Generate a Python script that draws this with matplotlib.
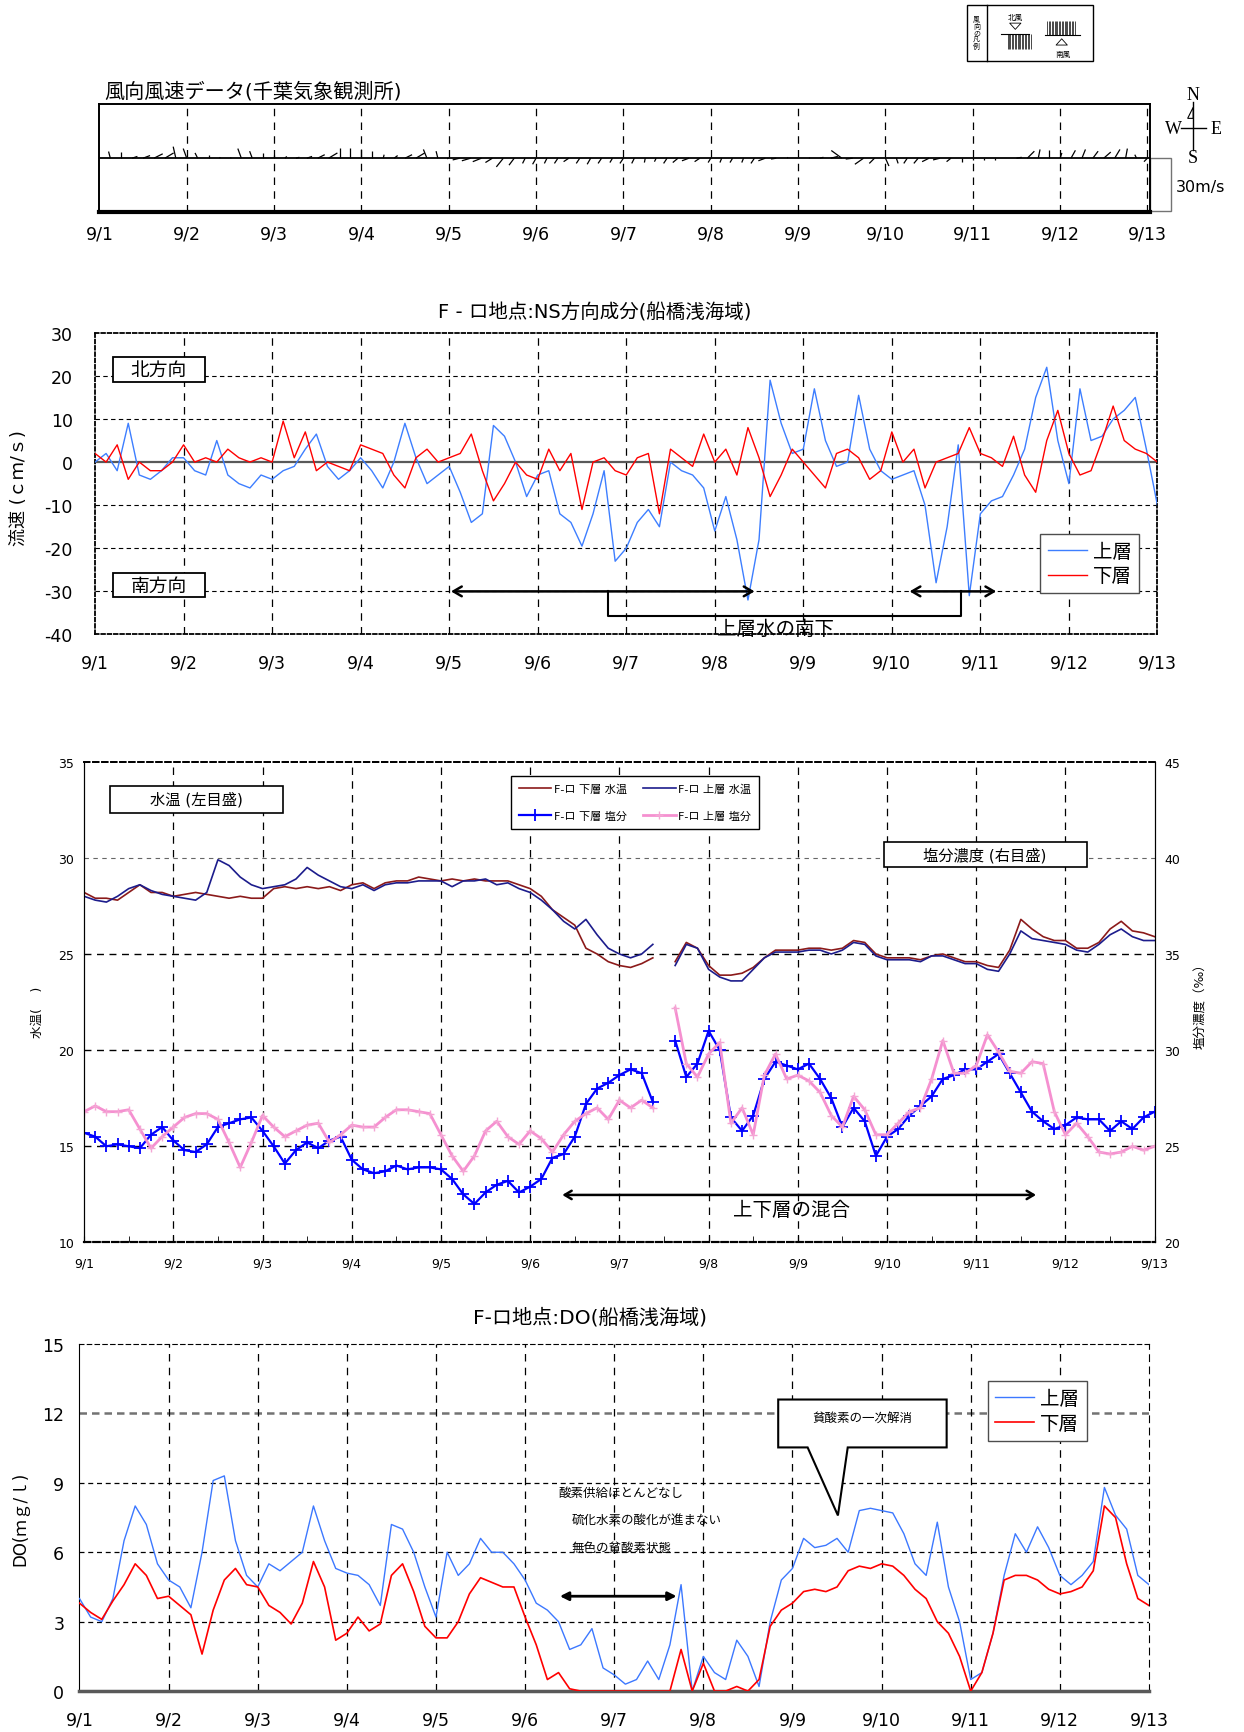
import numpy as np
import matplotlib.pyplot as plt
from matplotlib.patches import Rectangle, Polygon, FancyArrowPatch
from matplotlib.collections import LineCollection

plt.rcParams['font.family'] = ['DejaVu Sans', 'Noto Sans CJK JP']
plt.rcParams['axes.unicode_minus'] = False

days = ['9/1', '9/2', '9/3', '9/4', '9/5', '9/6', '9/7',
        '9/8', '9/9', '9/10', '9/11', '9/12', '9/13']
hours = np.arange(0, 289, 3)          # 3-hourly, 9/1 00:00 .. 9/13 00:00
t = hours / 24.0
nan = np.nan

# wind (m/s): east / north components
wind_u = [-1.5, -1, 0, 3, 4, 5, 5, -1.5,
          -2, -1.5, 0, 0.5, 0.5, -2, -1.5, 0,
          0, 1, 2, 3, 4, 5, 0, 0,
          0, 0, 0.5, 2, 4, 5, -2, -1,
          -1, -4, -5, -5, -4, -4, -3, -1.5,
          -2, -1.5, -2, -3, -2, -2, -2, -1.5,
          -2, -1.5, -0.5, -1, -2, -3, -4, -3,
          -1.5, -1, -1.5, -1, -2, -4, -3, 0.5,
          0, 0, 2, 4, -6, -4, -5, -3,
          2, 1, -2, -2.5, -4, -4, -2.5, 0,
          0, 0, 0, 0, 3, 4, 1, 0,
          1, 2.5, 2, 3, 4, 3, 1, -1,
          -2]
wind_v = [3.8, 3.8, 3.8, 1, 1.5, 2.5, 3, 6.6,
          5.5, 3, 2, 0.5, 0.3, 5.5, 4, 3,
          2, 1, 0.5, 1, 2, 3, 6, 6,
          5, 4, 2, 1.5, 2, 3, 5, 4,
          -0.3, -1, -1.5, -2, -2.5, -5, -4, -3,
          -3.5, -3, -3, -2, -3, -3.5, -3, -2.5,
          -3, -3, -2.5, -2, -3, -2.5, -1.5, -2,
          -2.5, -2.5, -2.5, -2.5, -3, -1.5, -0.5, 0.5,
          0.3, 0.8, 0.5, 1, 4.4, -0.5, -3.5, -3,
          -4.5, -3, -3, -3, -2, -1, -2, -2,
          -1.2, -1, -0.8, 0.3, 0.5, 4, 5, 4.5,
          3, 4.5, 5, 4, 3.5, 5, 5.5, 2,
          -2]

# NS current (cm/s)
ns_upper = [0, 2, -2, 9, -3, -4, -2, 1,
            1, -2, -3, 5, -3, -5, -6, -3,
            -4, -2, -1, 3, 6.5, -1, -4, -2,
            1, -2, -6, 0, 9, 1, -5, -3,
            -1, -7, -14, -12, 8.5, 6, 0, -8,
            -3, -2, -12, -14, -19.5, -12, -2, -23,
            -20, -14, -11, -15, 0, -2, -3, -6,
            -16, -8, -18, -32, -18, 19, 9, 2,
            3, 17, 5, -1, 0, 15.5, 3, -2,
            -4, -3, -2, -10, -28, -15, 4, -31,
            -12, -9, -8, -3, 3, 15, 22, 5,
            -5, 17, 5, 6, 10, 12, 15, 3,
            -10]
ns_lower = [2, 0, 4, -4, 0, -2, -2, 0,
            4, 0, 1, 0, 3, 1, 0, 1,
            0, 9.5, 1, 7, -2, 0, -1, -2,
            4, 3, 2, -3, -6, 1, 3, 0,
            1, 2, 6.5, -2, -9, -5, 0, -3,
            -4, 3, -2, 2, -11, 0, 1, -2,
            -3, 1, 2, -12, 3, 1, -1, 6.5,
            0, 3, -3, 8, 1, -8, -3, 3,
            0, -3, -6, 2, 3, 1, -4, -2,
            7, 0, 3, -6, 0, 1, 2, 8,
            2, 1, -1, 6, -3, -7, 5, 12,
            2, -3, -2, 5, 13, 5, 3, 2,
            0]

# water temperature (deg C)
temp_lower = [28.2, 27.9, 27.9, 27.8, 28.2, 28.6, 28.2, 28.2,
              28.0, 28.1, 28.2, 28.1, 28.0, 27.9, 28.0, 27.9,
              27.9, 28.4, 28.5, 28.4, 28.5, 28.4, 28.5, 28.3,
              28.6, 28.7, 28.4, 28.7, 28.8, 28.8, 29.0, 28.9,
              28.8, 28.9, 28.8, 28.9, 28.8, 28.8, 28.8, 28.6,
              28.4, 28.0, 27.3, 26.9, 26.5, 25.3, 25.0, 24.6,
              24.4, 24.3, 24.5, 24.8, nan, 24.6, 25.6, 25.3,
              24.4, 23.9, 23.9, 24.0, 24.3, 24.8, 25.2, 25.2,
              25.2, 25.3, 25.3, 25.2, 25.3, 25.7, 25.6, 25.0,
              24.8, 24.8, 24.8, 24.7, 24.9, 25.0, 24.8, 24.6,
              24.6, 24.4, 24.3, 25.2, 26.8, 26.3, 25.9, 25.7,
              25.7, 25.3, 25.3, 25.6, 26.3, 26.7, 26.2, 26.1,
              25.9]
temp_upper = [28.0, 27.8, 27.7, 28.0, 28.4, 28.6, 28.3, 28.1,
              28.0, 27.9, 27.8, 28.2, 29.9, 29.6, 29.0, 28.6,
              28.4, 28.5, 28.6, 28.9, 29.5, 29.1, 28.8, 28.5,
              28.4, 28.6, 28.3, 28.6, 28.7, 28.7, 28.8, 28.8,
              28.8, 28.5, 28.8, 28.8, 28.9, 28.6, 28.7, 28.4,
              28.2, 27.8, 27.3, 26.7, 26.3, 26.8, 26.0, 25.3,
              25.0, 24.8, 25.0, 25.5, nan, 24.4, 25.5, 25.3,
              24.2, 23.8, 23.6, 23.6, 24.2, 24.8, 25.1, 25.1,
              25.1, 25.2, 25.2, 25.0, 25.2, 25.6, 25.5, 24.9,
              24.7, 24.7, 24.7, 24.6, 24.9, 24.9, 24.7, 24.5,
              24.5, 24.2, 24.1, 25.0, 26.2, 25.8, 25.7, 25.6,
              25.5, 25.2, 25.1, 25.5, 26.0, 26.3, 25.9, 25.7,
              25.7]

# salinity (permil)
sal_lower = [25.7, 25.5, 25.0, 25.1, 25.0, 24.9, 25.6, 26.0,
             25.3, 24.8, 24.7, 25.1, 26.0, 26.2, 26.4, 26.5,
             25.8, 25.0, 24.1, 24.8, 25.2, 24.9, 25.3, 25.5,
             24.3, 23.8, 23.6, 23.7, 24.0, 23.8, 23.9, 23.9,
             23.8, 23.3, 22.5, 22.0, 22.6, 23.0, 23.2, 22.6,
             22.9, 23.3, 24.4, 24.6, 25.5, 27.2, 28.0, 28.3,
             28.7, 29.0, 28.8, 27.3, nan, 30.5, 28.6, 29.3,
             31.0, 30.0, 26.5, 25.8, 26.6, 28.5, 29.4, 29.2,
             29.0, 29.3, 28.5, 27.5, 26.0, 27.0, 26.3, 24.5,
             25.5, 25.9, 26.6, 27.1, 27.6, 28.5, 28.7, 29.0,
             29.0, 29.4, 29.8, 28.8, 27.8, 26.8, 26.3, 25.9,
             26.1, 26.5, 26.4, 26.4, 25.8, 26.3, 25.9, 26.5,
             26.8]
sal_upper = [26.8, 27.1, 26.8, 26.8, 26.9, 25.9, 24.9, 25.5,
             26.0, 26.5, 26.7, 26.7, 26.4, 25.2, 23.9, 25.2,
             26.6, 26.0, 25.5, 25.8, 26.1, 26.2, 25.2, 25.6,
             26.1, 26.0, 26.0, 26.5, 26.9, 26.9, 26.8, 26.7,
             25.6, 24.5, 23.7, 24.5, 25.8, 26.3, 25.5, 25.1,
             25.8, 25.4, 24.7, 25.6, 26.3, 26.7, 27.0, 26.4,
             27.4, 27.0, 27.4, 27.0, nan, 32.2, 29.3, 28.6,
             29.8, 30.4, 26.2, 27.0, 25.6, 28.7, 29.8, 28.5,
             28.7, 28.4, 27.8, 26.6, 26.0, 27.6, 26.9, 25.6,
             25.6, 26.2, 26.8, 27.0, 28.5, 30.5, 28.8, 28.8,
             29.2, 30.8, 29.9, 28.9, 28.8, 29.4, 29.3, 26.8,
             25.6, 26.2, 25.5, 24.7, 24.6, 24.7, 25.0, 24.8,
             25.0]

# dissolved oxygen (mg/l)
do_upper = [4.0, 3.2, 3.0, 4.0, 6.5, 8.0, 7.2, 5.5,
            4.8, 4.5, 3.6, 6.0, 9.1, 9.3, 6.5, 5.0,
            4.5, 5.5, 5.2, 5.6, 6.0, 8.0, 6.5, 5.3,
            5.1, 5.0, 4.6, 3.7, 7.2, 7.0, 6.0, 4.5,
            3.2, 6.0, 5.0, 5.5, 6.6, 6.0, 6.0, 5.5,
            4.8, 3.8, 3.5, 3.0, 1.8, 2.0, 2.7, 1.0,
            0.7, 0.3, 0.5, 1.3, 0.5, 2.0, 4.6, 0.0,
            1.5, 0.8, 0.5, 2.2, 1.5, 0.2, 3.0, 4.8,
            5.3, 6.6, 6.2, 6.3, 6.6, 6.0, 7.8, 7.9,
            7.8, 7.7, 6.8, 5.5, 5.0, 7.3, 4.5, 3.0,
            0.5, 0.8, 2.5, 5.0, 6.8, 6.0, 7.1, 6.2,
            5.0, 4.6, 5.0, 5.6, 8.8, 7.6, 7.0, 5.0,
            4.6]
do_lower = [3.8, 3.4, 3.1, 3.9, 4.6, 5.5, 5.0, 4.0,
            4.1, 3.7, 3.3, 1.6, 3.5, 4.8, 5.3, 4.6,
            4.5, 3.7, 3.4, 2.9, 3.8, 5.6, 4.5, 2.2,
            2.5, 3.2, 2.6, 2.9, 5.0, 5.5, 4.3, 2.8,
            2.3, 2.3, 3.0, 4.2, 4.9, 4.7, 4.5, 4.5,
            3.2, 2.0, 0.5, 0.8, 0.1, 0.0, 0.0, 0.0,
            0.0, 0.0, 0.0, 0.0, 0.0, 0.0, 1.8, 0.0,
            1.2, 0.0, 0.0, 0.2, 0.0, 0.5, 2.8, 3.5,
            3.8, 4.3, 4.4, 4.3, 4.5, 5.2, 5.4, 5.3,
            5.5, 5.4, 5.0, 4.4, 4.0, 3.0, 2.5, 1.5,
            0.0, 0.8, 2.5, 4.8, 5.0, 5.0, 4.8, 4.4,
            4.2, 4.3, 4.5, 5.2, 8.0, 7.5, 5.5, 4.0,
            3.7]

DASH = (0, (6, 5))
FW, FH = 12.44, 17.33
fig = plt.figure(figsize=(FW, FH), dpi=100)


def day_grid(ax, upto=12, lw=0.9):
    for d in range(1, upto):
        ax.axvline(d, color='k', ls=DASH, lw=lw, zorder=0.5)


# ---------------- panel 1 : wind sticks ----------------
pos1 = [0.0799, 0.8769, 0.8446, 0.0625]
ax1 = fig.add_axes(pos1)
W_XMAX, W_YMAX = 12.03, 31
# days per (m/s) so that u and v share the same screen scale
k = (pos1[3] * FH / (2 * W_YMAX)) / (pos1[2] * FW / W_XMAX)
segs = [[(ti, 0), (ti + ui * k, vi)] for ti, ui, vi in zip(t, wind_u, wind_v)]
ax1.add_collection(LineCollection(segs, colors='k', linewidths=0.9))
ax1.axhline(0, color='k', lw=1.3)
day_grid(ax1, 13)
ax1.set_xlim(0, W_XMAX)
ax1.set_ylim(-W_YMAX, W_YMAX)
ax1.set_yticks([])
ax1.set_xticks(range(13))
ax1.set_xticklabels(days, fontsize=12.5)
ax1.tick_params(axis='x', length=0, pad=9)
for s in ax1.spines.values():
    s.set_linewidth(1.4)
ax1.spines['bottom'].set_linewidth(3)
ax1.text(0.005, 1.03, '風向風速データ(千葉気象観測所)', transform=ax1.transAxes,
         fontsize=14.5, ha='left', va='bottom')
ax1.add_patch(Rectangle((12.03, -30), 0.24, 30, fill=False, ec='0.45', lw=1,
                        clip_on=False))
ax1.text(12.33, -16, '30m/s', fontsize=11.5, ha='left', va='center')

# overlay in pixel-like coordinates for legend box and compass
ov = fig.add_axes([0, 0, 1, 1])
ov.set_xlim(0, 1126)
ov.set_ylim(1568, 0)
ov.axis('off')
ov.add_patch(Rectangle((875, 5.5), 114, 50.5, fill=False, ec='k', lw=1))
ov.plot([893.5, 893.5], [5.5, 56], color='k', lw=1)
ov.text(884, 30, '\n'.join('風向の凡例'), fontsize=5, ha='center', va='center',
        linespacing=1.05)
ov.text(919, 15.5, '北風', fontsize=5.5, ha='center', va='center')
ov.plot([906, 931], [31.7, 31.7], color='k', lw=0.8)
ov.vlines(np.arange(912, 933, 1.3), 31.7, 45, color='k', lw=0.5)
ov.add_patch(FancyArrowPatch((919, 20.5), (919, 30), mutation_scale=9,
                             arrowstyle='simple,head_length=0.5,head_width=0.9,tail_width=0.4',
                             fc='white', ec='k', lw=0.6))
ov.plot([946, 978], [32.6, 32.6], color='k', lw=0.8)
ov.vlines(np.arange(948, 973, 1.3), 19.6, 32.6, color='k', lw=0.5)
ov.add_patch(FancyArrowPatch((961, 42.5), (961, 33.5), mutation_scale=9,
                             arrowstyle='simple,head_length=0.5,head_width=0.9,tail_width=0.4',
                             fc='white', ec='k', lw=0.6))
ov.text(962, 49, '南風', fontsize=5.5, ha='center', va='center')
serif = ['Liberation Serif', 'DejaVu Serif']
ov.text(1080, 86, 'N', family=serif, fontsize=13, ha='center', va='center')
ov.text(1080, 143, 'S', family=serif, fontsize=13, ha='center', va='center')
ov.text(1062, 117, 'W', family=serif, fontsize=13, ha='center', va='center')
ov.text(1101, 117, 'E', family=serif, fontsize=13, ha='center', va='center')
ov.plot([1080, 1080], [93, 137], color='k', lw=1)
ov.plot([1069, 1092], [117, 117], color='k', lw=1)
ov.add_patch(Polygon([[1080, 98], [1075, 108], [1080, 108]], closed=True,
                     fill=False, ec='k', lw=0.8))

# ---------------- panel 2 : NS component ----------------
ax2 = fig.add_axes([0.0764, 0.6333, 0.8540, 0.1741])
ax2.plot(t, ns_upper, color='#3d7eff', lw=1.0, label='上層', zorder=3)
ax2.plot(t, ns_lower, color='#ff0000', lw=1.0, label='下層', zorder=3)
for y in (-30, -20, -10, 10, 20):
    ax2.axhline(y, color='k', ls=(0, (4, 3)), lw=0.8, zorder=0.5)
ax2.axhline(0, color='0.35', lw=1.6, zorder=0.6)
day_grid(ax2)
ax2.set_xlim(0, 12)
ax2.set_ylim(-40, 30)
ax2.set_yticks(range(-40, 31, 10))
ax2.set_xticks(range(13))
ax2.set_xticklabels(days, fontsize=12.5)
ax2.tick_params(axis='y', labelsize=12.5, length=0, pad=16)
ax2.tick_params(axis='x', length=0, pad=14)
for s in ax2.spines.values():
    s.set_linestyle((0, (2, 1.5)))
    s.set_linewidth(1.3)
ax2.text(0.47, 1.07, 'F - ロ地点:NS方向成分(船橋浅海域)', transform=ax2.transAxes,
         fontsize=14, ha='center', va='center')
ax2.set_ylabel('流速 (ｃｍ/ｓ)', fontsize=13)
ax2.yaxis.set_label_coords(-0.063, 0.49)
for y0, txt in ((18.6, '北方向'), (-31.4, '南方向')):
    ax2.add_patch(Rectangle((0.2, y0), 1.04, 5.7, fc='white', ec='k', lw=1.3,
                            zorder=4))
    ax2.text(0.72, y0 + 2.85, txt, fontsize=13.5, ha='center', va='center',
             zorder=5)
arr = dict(arrowstyle='<->,head_length=0.6,head_width=0.35', lw=1.8, color='k',
           shrinkA=0, shrinkB=0)
ax2.annotate('', xy=(7.45, -30), xytext=(4.02, -30), arrowprops=arr, zorder=5)
ax2.annotate('', xy=(10.18, -30), xytext=(9.2, -30), arrowprops=arr, zorder=5)
ax2.plot([5.79, 5.79, 9.78, 9.78], [-30, -35.6, -35.6, -30], color='k', lw=1.5,
         zorder=5)
ax2.text(7.69, -38.6, '上層水の南下', fontsize=14, ha='center', va='center',
         zorder=5)
ax2.legend(loc='lower right', bbox_to_anchor=(0.983, 0.137), fontsize=14,
           handlelength=2.0, fancybox=False, edgecolor='0.3', framealpha=1,
           borderpad=0.4, labelspacing=0.3, handletextpad=0.3,
           borderaxespad=0)

# ---------------- panel 3 : temperature / salinity ----------------
ax3 = fig.add_axes([0.0676, 0.2825, 0.8606, 0.2774])
ax3b = ax3.twinx()
h_tl, = ax3.plot(t, temp_lower, color='#8b1a1a', lw=1.2, label='F-ロ 下層 水温')
h_tu, = ax3.plot(t, temp_upper, color='#1c1c8c', lw=1.2, label='F-ロ 上層 水温')
h_sl, = ax3b.plot(t, sal_lower, color='#0000ff', lw=1.6, marker='+', ms=9,
                  mew=1.3, label='F-ロ 下層 塩分')
h_su, = ax3b.plot(t, sal_upper, color='#f590d0', lw=2.0, marker='+', ms=6,
                  mew=1.0, mec='#f4a6d4', label='F-ロ 上層 塩分')
for y in (15, 20, 25):
    ax3.axhline(y, color='k', ls=(0, (5, 4)), lw=1.0, zorder=0.5)
ax3.axhline(30, color='0.4', ls=(0, (4, 4)), lw=0.8, zorder=0.5)
day_grid(ax3)
ax3.set_xlim(0, 12)
ax3.set_ylim(10, 35)
ax3b.set_ylim(20, 45)
ax3.set_yticks(range(10, 36, 5))
ax3b.set_yticks(range(20, 46, 5))
ax3.set_xticks(range(13))
ax3.set_xticklabels(days, fontsize=9)
ax3.set_xticks(np.arange(0.5, 12, 1), minor=True)
ax3.tick_params(axis='x', which='both', direction='in', length=4, pad=10)
ax3.tick_params(axis='y', labelsize=9, length=0, pad=7)
ax3b.tick_params(axis='y', labelsize=9, length=0, pad=7)
for a in (ax3, ax3b):
    a.spines['top'].set_linestyle((0, (3, 2)))
    a.spines['top'].set_linewidth(1.3)
    a.spines['bottom'].set_linestyle((0, (3, 1.5)))
    a.spines['bottom'].set_linewidth(1.5)
ax3.set_ylabel('水温(　 )', fontsize=9)
ax3.yaxis.set_label_coords(-0.038, 0.48)
ax3b.set_ylabel('塩分濃度（‰）', fontsize=9, rotation=90)
ax3b.yaxis.set_label_coords(1.037, 0.50)
ax3b.add_patch(Rectangle((0.29, 42.35), 1.94, 1.4, fc='white', ec='k', lw=1.2,
                         zorder=4))
ax3b.text(1.26, 43.05, '水温 (左目盛)', fontsize=11, ha='center', va='center',
          zorder=5)
ax3b.add_patch(Rectangle((8.97, 39.52), 2.27, 1.31, fc='white', ec='k', lw=1.2,
                         zorder=4))
ax3b.text(10.1, 40.17, '塩分濃度 (右目盛)', fontsize=11, ha='center',
          va='center', zorder=5)
ax3b.annotate('', xy=(10.67, 22.47), xytext=(5.36, 22.47),
              arrowprops=dict(arrowstyle='<->,head_length=0.5,head_width=0.3',
                              lw=1.8, color='k', shrinkA=0, shrinkB=0))
ax3b.text(7.93, 21.7, '上下層の混合', fontsize=14, ha='center', va='center')
ax3b.legend(handles=[h_tl, h_sl, h_tu, h_su], ncol=2, loc='upper left',
            bbox_to_anchor=(4.79 / 12, 0.971), fontsize=8, fancybox=False,
            edgecolor='k', framealpha=1, borderpad=0.7, labelspacing=1.5,
            handlelength=2.9, handletextpad=0.2, columnspacing=1.5,
            borderaxespad=0)

# ---------------- panel 4 : DO ----------------
ax4 = fig.add_axes([0.0639, 0.0236, 0.8597, 0.2003])
ax4.plot(t, do_upper, color='#3c78ff', lw=1.0, label='上層', zorder=3)
ax4.plot(t, do_lower, color='#ff0000', lw=1.2, label='下層', zorder=3)
for y in (3, 6, 9):
    ax4.axhline(y, color='k', ls=(0, (4, 3)), lw=0.9, zorder=0.5)
ax4.axhline(12, color='0.45', ls=(0, (3, 2)), lw=1.8, zorder=0.5)
day_grid(ax4)
ax4.set_xlim(0, 12)
ax4.set_ylim(0, 15)
ax4.set_yticks(range(0, 16, 3))
ax4.set_xticks(range(13))
ax4.set_xticklabels(days, fontsize=12.5)
ax4.tick_params(axis='y', labelsize=12.5, length=0, pad=11)
ax4.tick_params(axis='x', length=0, pad=14)
ax4.spines['top'].set_linestyle((0, (4, 3)))
ax4.spines['right'].set_linestyle(DASH)
ax4.spines['bottom'].set_color('0.35')
ax4.spines['bottom'].set_linewidth(2.5)
ax4.text(0.477, 1.08, 'F-ロ地点:DO(船橋浅海域)', transform=ax4.transAxes,
         fontsize=14.5, ha='center', va='center')
ax4.set_ylabel('DO(ｍｇ/ｌ)', fontsize=12)
ax4.yaxis.set_label_coords(-0.047, 0.5)
ax4.legend(loc='upper right', bbox_to_anchor=(0.942, 0.893), fontsize=14,
           handlelength=2.0, fancybox=False, edgecolor='0.3', framealpha=1,
           borderpad=0.4, labelspacing=0.3, handletextpad=0.3,
           borderaxespad=0)
ax4.add_patch(Polygon([[7.84, 12.6], [9.73, 12.6], [9.73, 10.53], [8.62, 10.53],
                       [8.51, 7.59], [8.17, 10.53], [7.84, 10.53]],
                      closed=True, fc='white', ec='k', lw=1.5, zorder=4))
ax4.text(8.78, 11.85, '貧酸素の一次解消', fontsize=9, ha='center', va='center',
         zorder=5)
ax4.text(5.37, 8.59, '酸素供給ほとんどなし', fontsize=9, ha='left', va='center')
ax4.text(5.52, 7.4, '硫化水素の酸化が進まない', fontsize=9, ha='left', va='center')
ax4.text(5.52, 6.21, '無色の貧酸素状態', fontsize=9, ha='left', va='center')
ax4.annotate('', xy=(6.7, 4.1), xytext=(5.39, 4.1),
             arrowprops=dict(arrowstyle='<|-|>,head_length=0.5,head_width=0.25',
                             lw=2, color='k', shrinkA=0, shrinkB=0))

fig.savefig('out.png', dpi=100)
